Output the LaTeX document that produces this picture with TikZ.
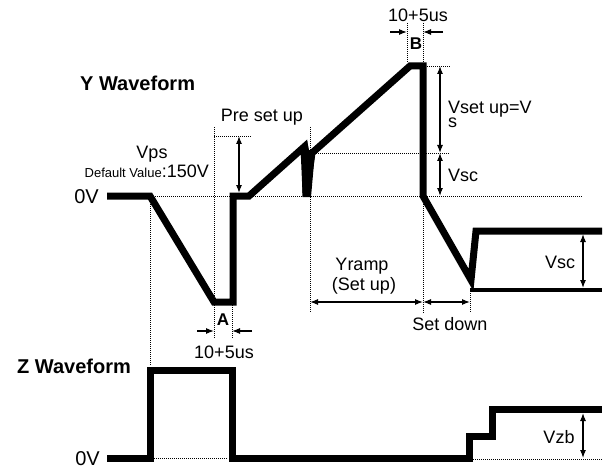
\documentclass[tikz,border=0pt]{standalone}
\usepackage{fontspec}
\setmainfont{Liberation Sans}
\usetikzlibrary{arrows.meta}

\begin{document}
\begin{tikzpicture}[x=1pt,y=-1pt,
	wave/.style={line width=7pt,line join=miter,miter limit=4},
	guide/.style={line width=0.8pt,dash pattern=on 1pt off 1pt},
	dim/.style={line width=1.1pt,{Latex[length=8pt,width=6pt]}-{Latex[length=8pt,width=6pt]}},
	pin/.style={line width=1.1pt,-{Latex[length=8pt,width=6pt]}},
	lbl/.style={inner sep=0pt,anchor=base,font=\fontsize{18}{20}\selectfont},
	ttl/.style={inner sep=0pt,anchor=base west,font=\bfseries\fontsize{20}{22}\selectfont},
	letter/.style={inner sep=0pt,anchor=base,font=\bfseries\fontsize{17}{19}\selectfont}]
	\useasboundingbox (0,0) rectangle (605,468);
	% dotted guide lines
	\draw[guide] (155,196) -- (583,196);
	\draw[guide] (150,200) -- (150,366);
	\draw[guide] (214,127) -- (214,338);
	\draw[guide] (214,136) -- (251,136);
	\draw[guide] (232,305) -- (232,338);
	\draw[guide] (310,127) -- (310,313);
	\draw[guide] (310,153) -- (450,153);
	\draw[guide] (427,66) -- (450,66);
	\draw[guide] (407,23) -- (407,63);
	\draw[guide] (423,23) -- (423,63);
	\draw[guide] (423,200) -- (423,313);
	\draw[guide] (470,293) -- (470,313);
	\draw[guide] (154,458) -- (228,458);
	\draw[guide] (473,459) -- (603,459);
	% Y waveform
	\draw[wave] (107,196) -- (150,196) -- (214,302) -- (233,302) -- (233,196)
		-- (249,196) -- (304,147) -- (306,193) -- (312,153) -- (410,66)
		-- (423,66) -- (423,196) -- (471,280) -- (476,231) -- (602,231);
	\fill (302,146) -- (307,140) -- (309,150) -- (315,152) -- (311,197) -- (302.5,197) -- cycle;
	\draw[line width=4.5pt] (470,290) -- (602,290);
	% Z waveform
	\draw[wave] (107,458) -- (150.5,458) -- (150.5,370) -- (232,370) -- (232,458)
		-- (469,458) -- (469,436) -- (492.5,436) -- (492.5,409) -- (602,409);
	% dimension points
	\coordinate (ps-t) at (239,136);
	\coordinate (ps-b) at (239,193);
	\coordinate (su-t) at (440,66);
	\coordinate (su-b) at (440,153);
	\coordinate (sc-b) at (440,196);
	\coordinate (ramp-l) at (310,302);
	\coordinate (ramp-r) at (423,302);
	\coordinate (down-r) at (470,302);
	\coordinate (scr-t) at (583,234);
	\coordinate (scr-b) at (583,288);
	\coordinate (zb-t) at (583,413);
	\coordinate (zb-b) at (583,458);
	\coordinate (a-lo) at (197,331);
	\coordinate (a-l) at (214,331);
	\coordinate (a-ro) at (252,331);
	\coordinate (a-r) at (232,331);
	\coordinate (b-lo) at (390,32);
	\coordinate (b-l) at (407,32);
	\coordinate (b-ro) at (443,32);
	\coordinate (b-r) at (423,32);
	% dimension arrows
	\draw[dim] (ps-t) -- (ps-b);
	\draw[dim] (su-t) -- (su-b);
	\draw[dim] (su-b) -- (sc-b);
	\draw[dim] (ramp-l) -- (ramp-r);
	\draw[dim] (ramp-r) -- (down-r);
	\draw[dim] (scr-t) -- (scr-b);
	\draw[dim] (zb-t) -- (zb-b);
	\draw[pin] (a-lo) -- (a-l);
	\draw[pin] (a-ro) -- (a-r);
	\draw[pin] (b-lo) -- (b-l);
	\draw[pin] (b-ro) -- (b-r);
	% labels
	\node[ttl] (ywave) at (80,90.5) {Y Waveform};
	\node[ttl] (zwave) at (17,373) {Z Waveform};
	\node[lbl,anchor=base east,font=\fontsize{20}{22}\selectfont] (yzero) at (99,203) {0V};
	\node[lbl,anchor=base east,font=\fontsize{20}{22}\selectfont] (zzero) at (100,465) {0V};
	\node[lbl] (presetup) at (262,122) {Pre set up};
	\node[lbl] (vps) at (152,158.5) {Vps};
	\node[lbl,anchor=base east] (vpsdef) at (209,177.7) {{\fontsize{13}{15}\selectfont Default Value}:150V};
	\node[lbl] (btime) at (418,22) {10+5us};
	\node[letter] (bmark) at (416,50) {B};
	\node[letter] (amark) at (223,325) {A};
	\node[lbl] (atime) at (224,358) {10+5us};
	\node[lbl,anchor=north west,align=left,font=\fontsize{18}{12.5}\selectfont] (vsetup) at (448,100.5) {Vset up=V\\s};
	\node[lbl,anchor=base west] (vscy) at (448,181.5) {Vsc};
	\node[lbl] (yramp) at (362,270) {Yramp};
	\node[lbl] (rampsetup) at (364,290) {(Set up)};
	\node[lbl] (setdown) at (450,330.5) {Set down};
	\node[lbl] (vscr) at (560,268) {Vsc};
	\node[lbl] (vzb) at (559,443) {Vzb};
\end{tikzpicture}
\end{document}
